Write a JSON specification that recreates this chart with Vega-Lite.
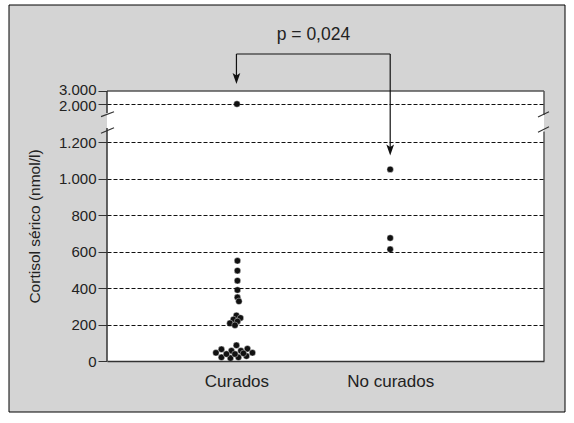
{
  "$schema": "https://vega.github.io/schema/vega-lite/v6.json",
  "width": 437,
  "height": 270,
  "autosize": {"type": "none"},
  "padding": {"left": 107, "top": 91, "right": 30, "bottom": 62},
  "background": "white",
  "config": {"view": {"stroke": null}, "font": "Liberation Sans"},
  "datasets": {
    "pts": [
      {"grupo": "Curados", "cortisol": 2000, "dx": 0.5},
      {"grupo": "Curados", "cortisol": 549, "dx": 1},
      {"grupo": "Curados", "cortisol": 495, "dx": 1},
      {"grupo": "Curados", "cortisol": 440, "dx": 1},
      {"grupo": "Curados", "cortisol": 389, "dx": 1},
      {"grupo": "Curados", "cortisol": 349, "dx": 1},
      {"grupo": "Curados", "cortisol": 327, "dx": 2.5},
      {"grupo": "Curados", "cortisol": 250, "dx": 0},
      {"grupo": "Curados", "cortisol": 236, "dx": 4},
      {"grupo": "Curados", "cortisol": 228, "dx": -3},
      {"grupo": "Curados", "cortisol": 217, "dx": 1},
      {"grupo": "Curados", "cortisol": 207, "dx": -6.5},
      {"grupo": "Curados", "cortisol": 196, "dx": -1.5},
      {"grupo": "Curados", "cortisol": 86, "dx": 0},
      {"grupo": "Curados", "cortisol": 64, "dx": -15},
      {"grupo": "Curados", "cortisol": 45, "dx": -20.5},
      {"grupo": "Curados", "cortisol": 56, "dx": -5},
      {"grupo": "Curados", "cortisol": 56, "dx": 4.5},
      {"grupo": "Curados", "cortisol": 67, "dx": 11},
      {"grupo": "Curados", "cortisol": 45, "dx": 16},
      {"grupo": "Curados", "cortisol": 20, "dx": -15},
      {"grupo": "Curados", "cortisol": 16, "dx": -6},
      {"grupo": "Curados", "cortisol": 20, "dx": 2},
      {"grupo": "Curados", "cortisol": 27, "dx": 10},
      {"grupo": "Curados", "cortisol": 38, "dx": -10},
      {"grupo": "Curados", "cortisol": 38, "dx": -1.5},
      {"grupo": "Curados", "cortisol": 42, "dx": 7},
      {"grupo": "No curados", "cortisol": 1050, "dx": 0},
      {"grupo": "No curados", "cortisol": 674, "dx": 0},
      {"grupo": "No curados", "cortisol": 612, "dx": 0}
    ]
  },
  "layer": [
    {
      "data": {"values": [{}]},
      "mark": {"type": "rect", "fill": "#d4d4d4", "stroke": "#000", "strokeWidth": 1},
      "encoding": {"x": {"value": -98}, "x2": {"value": 458}, "y": {"value": -86}, "y2": {"value": 321}}
    },
    {
      "data": {"values": [{}]},
      "mark": {"type": "rect", "fill": "white"},
      "encoding": {"x": {"value": 0}, "x2": {"value": "width"}, "y": {"value": 0}, "y2": {"value": "height"}}
    },
    {
      "data": {"name": "pts"},
      "mark": {"type": "circle", "size": 42, "fill": "#111", "stroke": "white", "strokeWidth": 0.4, "opacity": 1},
      "encoding": {
        "x": {
          "field": "grupo", "type": "nominal",
          "scale": {"type": "point", "domain": ["Curados", "No curados"], "padding": 0.921, "align": 0.457},
          "axis": {"title": null, "ticks": false, "domain": true, "domainColor": "#333", "domainWidth": 1.5, "labelFontSize": 17, "labelColor": "#222", "labelPadding": 12, "labelAngle": 0, "grid": false, "zindex": 1}
        },
        "xOffset": {"field": "dx", "type": "quantitative", "scale": {"domain": [-30, 30], "range": [-30, 30]}},
        "y": {
          "field": "cortisol", "type": "quantitative",
          "scale": {"type": "linear", "domain": [0, 1200, 2000, 3000], "range": [270, 51, 13, 0], "nice": false, "zero": false},
          "axis": {
            "values": [0, 200, 400, 600, 800, 1000, 1200, 2000, 3000],
            "tickCount": 20,
            "labelExpr": "replace(format(datum.value, ','), ',', '.')",
            "domain": false, "ticks": true, "tickSize": 9, "tickColor": "#333", "tickWidth": 1,
            "labelFontSize": 15, "labelColor": "#222", "labelPadding": 2, "labelOverlap": false, "labelFlush": false,
            "labelOffset": {"condition": [{"test": "datum.value == 3000", "value": -1.5}, {"test": "datum.value == 2000", "value": 1}], "value": 0},
            "grid": true, "gridColor": "#111", "gridDash": [4, 2], "gridWidth": 1,
            "gridOpacity": {"condition": {"test": "datum.value == 0 || datum.value == 3000", "value": 0}, "value": 1},
            "title": "Cortisol sérico (nmol/l)", "titleFontSize": 15.5, "titleFontWeight": "normal", "titleColor": "#222",
            "titleX": -73, "titleY": 135, "titleAngle": 270, "titleAlign": "center", "titleBaseline": "middle",
            "zindex": 1
          }
        }
      }
    },
    {
      "data": {"values": [{"cortisol": 0, "c2": 1495}, {"cortisol": 1810, "c2": 3000}]},
      "mark": {"type": "rule", "color": "#333", "strokeWidth": 1.5},
      "encoding": {"x": {"value": 0}, "y": {"field": "cortisol", "type": "quantitative"}, "y2": {"field": "c2"}}
    },
    {
      "data": {"values": [{"cortisol": 0, "c2": 1420}, {"cortisol": 1770, "c2": 3000}]},
      "mark": {"type": "rule", "color": "#555", "strokeWidth": 1.5},
      "encoding": {"x": {"value": "width"}, "y": {"field": "cortisol", "type": "quantitative"}, "y2": {"field": "c2"}}
    },
    {
      "data": {"values": [{"cortisol": 3000}]},
      "mark": {"type": "rule", "color": "#555", "strokeWidth": 1.5},
      "encoding": {"x": {"value": 0}, "x2": {"value": "width"}, "y": {"field": "cortisol", "type": "quantitative"}}
    },
    {
      "data": {"values": [{"cortisol": 1383, "c2": 1501}, {"cortisol": 1733, "c2": 1838}]},
      "mark": {"type": "rule", "color": "#333", "strokeWidth": 1.2},
      "encoding": {"x": {"value": -6}, "x2": {"value": 7}, "y": {"field": "cortisol", "type": "quantitative"}, "y2": {"field": "c2"}}
    },
    {
      "data": {"values": [{"cortisol": 1404, "c2": 1522}, {"cortisol": 1726, "c2": 1838}]},
      "mark": {"type": "rule", "color": "#333", "strokeWidth": 1.2, "xOffset": -6, "x2Offset": 5},
      "encoding": {"x": {"value": "width"}, "x2": {"value": "width"}, "y": {"field": "cortisol", "type": "quantitative"}, "y2": {"field": "c2"}}
    },
    {
      "data": {"values": [{"grupo": "Curados", "grupo2": "No curados", "cortisol": 5846}]},
      "mark": {"type": "rule", "color": "#111", "strokeWidth": 1.2},
      "encoding": {"x": {"field": "grupo", "type": "nominal"}, "x2": {"field": "grupo2"}, "y": {"field": "cortisol", "type": "quantitative"}}
    },
    {
      "data": {"values": [{"grupo": "Curados", "cortisol": 5846, "c2": 3962}, {"grupo": "No curados", "cortisol": 5846, "c2": 1156}]},
      "mark": {"type": "rule", "color": "#111", "strokeWidth": 1.2},
      "encoding": {"x": {"field": "grupo", "type": "nominal"}, "y": {"field": "cortisol", "type": "quantitative"}, "y2": {"field": "c2"}}
    },
    {
      "data": {"values": [{"grupo": "Curados", "cortisol": 3962}, {"grupo": "No curados", "cortisol": 1156}]},
      "mark": {"type": "point", "shape": "M -0.7 -1 L 0 -0.55 L 0.7 -1 L 0 1 Z", "size": 121, "filled": true, "fill": "#111", "opacity": 1, "strokeWidth": 0},
      "encoding": {"x": {"field": "grupo", "type": "nominal"}, "y": {"field": "cortisol", "type": "quantitative"}}
    },
    {
      "data": {"values": [{"grupo": "Curados", "cortisol": 7308, "label": "p = 0,024"}]},
      "mark": {"type": "text", "fontSize": 17.5, "color": "#222", "dx": 77, "align": "center", "baseline": "middle"},
      "encoding": {"x": {"field": "grupo", "type": "nominal"}, "y": {"field": "cortisol", "type": "quantitative"}, "text": {"field": "label"}}
    }
  ]
}
